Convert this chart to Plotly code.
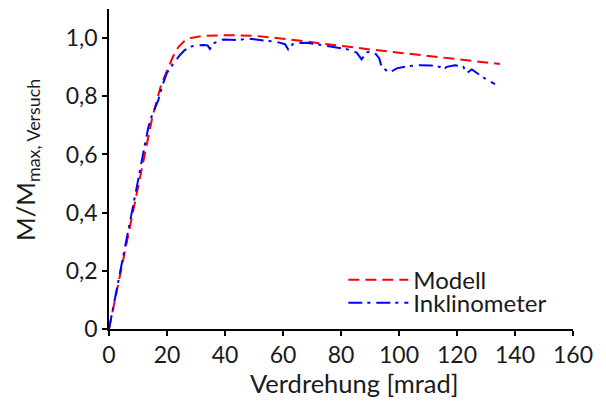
import plotly.graph_objects as go

# Modell (red dashed)
modell_x = [0, 5, 10, 15, 18, 20, 22, 24, 26, 28, 32, 40, 50, 60, 70, 82, 90, 100, 110, 120, 134.8]
modell_y = [0, 0.245, 0.49, 0.73, 0.84, 0.89, 0.935, 0.97, 0.99, 1.0, 1.007, 1.01, 1.008, 0.998, 0.985,
            0.970, 0.961, 0.950, 0.939, 0.928, 0.911]

# Inklinometer (blue dash-dot)
inkl_x = [0, 2, 5, 8, 10, 12, 13.6, 15, 17, 18.5, 19.9, 21, 22.2, 24.5, 26, 27.9, 30, 32.5, 34, 34.8, 36,
          39.4, 42.9, 45, 47.5, 52.1, 55, 57.8, 60.7, 61.8, 63.6, 68.2, 72, 77.3, 82, 85.4, 87.1, 88.9,
          90.6, 92, 93.2, 94.0, 95.5, 96.7, 99.2, 103, 107.2, 111, 114.1, 115.3, 116.4, 119.3, 122.2,
          123.3, 125.1, 126.6, 128.5, 130.8, 132, 133.1]
inkl_y = [0, 0.1, 0.25, 0.4, 0.51, 0.615, 0.695, 0.74, 0.787, 0.84, 0.879, 0.895, 0.913, 0.942, 0.958,
          0.970, 0.975, 0.976, 0.975, 0.963, 0.982, 0.995, 0.995, 0.993, 0.999, 0.995, 0.990, 0.987,
          0.979, 0.961, 0.982, 0.984, 0.978, 0.970, 0.962, 0.950, 0.927, 0.951, 0.953, 0.945, 0.930,
          0.901, 0.890, 0.881, 0.896, 0.903, 0.907, 0.906, 0.901, 0.890, 0.901, 0.907, 0.901, 0.879,
          0.892, 0.881, 0.869, 0.853, 0.848, 0.842]

x_ticks = [0, 20, 40, 60, 80, 100, 120, 140, 160]
y_ticks = [0, 0.2, 0.4, 0.6, 0.8, 1.0]
y_ticktext = ["0", "0,2", "0,4", "0,6", "0,8", "1,0"]
x_title = "Verdrehung [mrad]"
y_title = "M/M<sub>max, Versuch</sub>"

FONT = "Lato"
TXT = "#1a1a1a"

fig = go.Figure()
fig.add_trace(go.Scatter(x=modell_x, y=modell_y, mode="lines", name="Modell", legend="legend",
                         line=dict(color="#ff0000", width=2, dash="11px,6px")))
fig.add_trace(go.Scatter(x=inkl_x, y=inkl_y, mode="lines", name="Inklinometer", legend="legend2",
                         line=dict(color="#0000ff", width=2, dash="14px,5px,3px,6px")))

leg_common = dict(xanchor="left", yanchor="middle", bgcolor="rgba(0,0,0,0)",
                  font=dict(family=FONT, size=24, color=TXT), itemwidth=60)

# page body has an 8px default margin, so margins are offset accordingly
fig.update_layout(
    width=606, height=405,
    margin=dict(l=101, r=41, t=1, b=84),
    plot_bgcolor="white", paper_bgcolor="white",
    font=dict(family=FONT, size=22, color=TXT),
    legend=dict(x=0.505, y=0.153, **leg_common),
    legend2=dict(x=0.505, y=0.081, **leg_common),
    showlegend=True,
)
fig.add_annotation(text=x_title, xref="paper", yref="paper", x=0.53, y=-0.169,
                   xanchor="center", yanchor="middle", showarrow=False,
                   font=dict(family=FONT, size=25.5, color=TXT))
fig.add_annotation(text=y_title, xref="paper", yref="paper", x=-0.177, y=0.528, textangle=-90,
                   xanchor="center", yanchor="middle", showarrow=False,
                   font=dict(family=FONT, size=25.5, color=TXT))
fig.update_xaxes(range=[0, 160], tickvals=x_ticks, showgrid=False, zeroline=False, automargin=False,
                 showline=True, linecolor="black", linewidth=1.5,
                 ticks="outside", ticklen=5, tickcolor="black", tickwidth=1.5,
                 tickfont=dict(family=FONT, size=23, color=TXT))
fig.update_yaxes(range=[0, 1.1], tickvals=y_ticks, ticktext=y_ticktext, showgrid=False, zeroline=False,
                 automargin=False,
                 showline=True, linecolor="black", linewidth=1.5,
                 ticks="outside", ticklen=5, tickcolor="black", tickwidth=1.5,
                 tickfont=dict(family=FONT, size=23, color=TXT))

fig.write_html("out.html")
